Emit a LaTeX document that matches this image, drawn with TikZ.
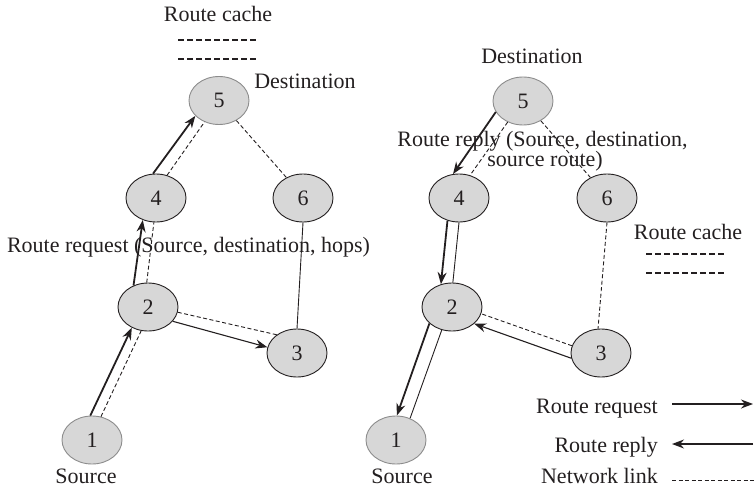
\documentclass[tikz,border=0pt]{standalone}
\usepackage{fontspec}
\setmainfont{Liberation Serif}
\usetikzlibrary{arrows.meta,shapes.geometric}
\definecolor{nodefill}{RGB}{215,215,215}
\definecolor{ink}{RGB}{35,31,32}
\definecolor{softrim}{RGB}{140,140,140}
\begin{document}
\begin{tikzpicture}[x=1pt,y=-1pt,
  every node/.style={font=\fontsize{22}{26}\selectfont, text=ink},
  host/.style={ellipse, draw=ink, line width=0.9pt, fill=nodefill,
    minimum width=60pt, minimum height=48pt, inner sep=0pt},
  endhost/.style={host, draw=softrim},
  txt/.style={anchor=base, inner sep=0pt},
  txtr/.style={anchor=base east, inner sep=0pt},
  link/.style={draw=ink, line width=0.9pt, dash pattern=on 4pt off 2.5pt},
  cache/.style={draw=ink, line width=1.2pt, dash pattern=on 6pt off 3pt},
  wire/.style={draw=ink, line width=0.9pt},
  hop/.style={draw=ink, line width=1.8pt, -{Stealth[length=12pt,width=9pt]}},
  thinhop/.style={draw=ink, line width=1.1pt, -{Stealth[length=12pt,width=9pt]}},
  keyarrow/.style={draw=ink, line width=1.4pt, -{Stealth[length=12pt,width=9pt]}},
]
\useasboundingbox (0,0) rectangle (754,489);

% ---------- route discovery: request flooding ----------
\node[endhost] (L5) at (219,100.5) {5};
\node[host]    (L4) at (156,198) {4};
\node[host]    (L6) at (303,198) {6};
\node[host]    (L2) at (148,307) {2};
\node[host]    (L3) at (297,353) {3};
\node[endhost] (L1) at (92,440) {1};

\node[txt] (LcacheT) at (218,22) {Route cache};
\coordinate (LcA1) at (178,40);  \coordinate (LcB1) at (257,40);
\coordinate (LcA2) at (178,59);  \coordinate (LcB2) at (257,59);
\draw[cache] (LcA1) -- (LcB1);
\draw[cache] (LcA2) -- (LcB2);
\node[txt] (LdestT) at (305,89) {Destination};
\node[txt] (LreqT) at (188.5,252) {Route request (Source, destination, hops)};
\node[txt] (LsrcT) at (86,483) {Source};

\draw[hop]  (L4.97) -- (L5.213);
\draw[link] (L4.64) -- (L5.236);
\draw[link] (L5.311) -- (L6.129);
\draw[hop]  (L2.124) -- (L4.239);
\draw[link] (L2.93) -- (L4.265);
\draw[wire] (L6.270) -- (L3.90);
\draw[thinhop] (L2.330) -- (L3.169);
\draw[link] (L2.350) -- (L3.138);
\draw[hop]  (L1.94) -- (L2.232);
\draw[link] (L1.69) -- (L2.254);

% ---------- route discovery: reply along the source route ----------
\node[endhost] (R5) at (523,101) {5};
\node[host]    (R4) at (459,198) {4};
\node[host]    (R6) at (607,198) {6};
\node[host]    (R2) at (452,307) {2};
\node[host]    (R3) at (601,353) {3};
\node[endhost] (R1) at (396,440) {1};

\node[txt] (RdestT) at (532,64) {Destination};
\node[txt] (RrepT1) at (542.5,147) {Route reply (Source, destination,};
\node[txt] (RrepT2) at (545,167) {source route)};
\node[txt] (RcacheT) at (688,239) {Route cache};
\coordinate (RcA1) at (646,254);  \coordinate (RcB1) at (725,254);
\coordinate (RcA2) at (646,273);  \coordinate (RcB2) at (725,273);
\draw[cache] (RcA1) -- (RcB1);
\draw[cache] (RcA2) -- (RcB2);
\node[txt] (RsrcT) at (402,483) {Source};

\draw[hop]  (R5.202) -- (R4.104);
\draw[link] (R5.234) -- (R4.64);
\draw[link] (R5.312) -- (R6.129);
\draw[hop]  (R4.243) -- (R2.116);
\draw[wire] (R4.270) -- (R2.88);
\draw[link] (R6.270) -- (R3.97);
\draw[thinhop] (R3.190) -- (R2.323);
\draw[link] (R3.166) -- (R2.347);
\draw[hop]  (R2.216) -- (R1.88);
\draw[wire] (R2.246) -- (R1.57);

% ---------- legend ----------
\node[txtr] (KreqT) at (658,413) {Route request};
\node[txtr] (KrepT) at (658,452) {Route reply};
\node[txtr] (KlinkT) at (658,483) {Network link};
\coordinate (KreqA) at (672,404);  \coordinate (KreqB) at (753,404);
\coordinate (KrepA) at (753,444);  \coordinate (KrepB) at (672,444);
\coordinate (KlinkA) at (672,480); \coordinate (KlinkB) at (754,480);
\draw[keyarrow] (KreqA) -- (KreqB);
\draw[keyarrow] (KrepA) -- (KrepB);
\draw[link] (KlinkA) -- (KlinkB);
\end{tikzpicture}
\end{document}
